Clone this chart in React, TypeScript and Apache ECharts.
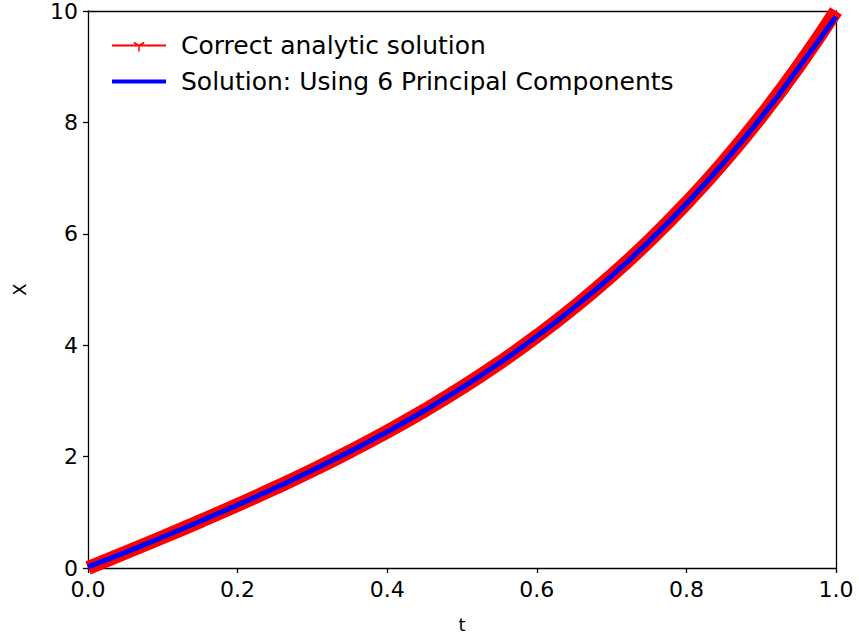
import React, { useEffect, useRef } from 'react';
import * as echarts from 'echarts';

const tValues = [0, 0.05, 0.1, 0.15, 0.2, 0.25, 0.3, 0.35, 0.4, 0.45, 0.5, 0.55, 0.6, 0.65, 0.7, 0.75, 0.8, 0.85, 0.9, 0.95, 1.0];
const analyticX = [0, 0.276, 0.555, 0.84, 1.133, 1.437, 1.755, 2.092, 2.449, 2.83, 3.24, 3.683, 4.162, 4.683, 5.25, 5.871, 6.55, 7.294, 8.112, 9.011, 10.0];
const pcaX = [0.02, 0.28, 0.556, 0.84, 1.132, 1.436, 1.754, 2.09, 2.447, 2.828, 3.238, 3.68, 4.16, 4.68, 5.245, 5.865, 6.54, 7.28, 8.09, 8.98, 9.9];
const xTickLabels = ['0.0', '0.2', '0.4', '0.6', '0.8', '1.0'];
const yTickLabels = ['0', '2', '4', '6', '8', '10'];

const seriesNames = ['Correct analytic solution', 'Solution: Using 6 Principal Components'];

const FONT = 'DejaVu Sans';

const redIcon =
  'path://M0 1 H0.01 V1.01 H0 Z M0 6 H54 V8 H0 Z M26.25 7 H27.75 V13 H26.25 Z ' +
  'M26.625 7.65 L21.425 4.65 L22.175 3.35 L27.375 6.35 Z ' +
  'M26.625 6.35 L31.825 3.35 L32.575 4.65 L27.375 7.65 Z';
const blueIcon = 'path://M0 1 H0.01 V1.01 H0 Z M0 5 H54 V9 H0 Z M0 12.99 H0.01 V13 H0 Z';

export default function App() {
  const ref = useRef<HTMLDivElement>(null);
  useEffect(() => {
    if (!ref.current) return;
    const chart = echarts.init(ref.current, undefined, { renderer: 'svg' });
    const axisLineStyle = { color: '#000', width: 1.3 };
    chart.setOption({
      animation: false,
      backgroundColor: '#fff',
      grid: { left: 88, right: 23, top: 10, bottom: 71 },
      legend: {
        orient: 'vertical',
        left: 107,
        top: 28,
        itemWidth: 54,
        itemHeight: 14,
        itemGap: 11,
        selectedMode: false,
        textStyle: { fontSize: 25, lineHeight: 25, color: '#000', fontFamily: FONT, padding: [0, 0, 0, 10] },
        data: [
          { name: seriesNames[0], icon: redIcon },
          { name: seriesNames[1], icon: blueIcon },
        ],
      },
      xAxis: [
        {
          type: 'value',
          min: 0,
          max: 1,
          interval: 0.2,
          name: 't',
          nameLocation: 'middle',
          nameGap: 47,
          nameTextStyle: { fontSize: 18, color: '#000', fontFamily: FONT },
          axisLine: { show: true, onZero: false, lineStyle: axisLineStyle },
          axisTick: { show: true, length: 5, lineStyle: axisLineStyle },
          axisLabel: {
            fontSize: 22,
            color: '#000',
            fontFamily: FONT,
            margin: 10,
            formatter: (v: number) => xTickLabels[Math.round(v / 0.2)] ?? '',
          },
          splitLine: { show: false },
        },
        {
          type: 'value',
          position: 'top',
          min: 0,
          max: 1,
          axisLine: { show: true, onZero: false, lineStyle: axisLineStyle },
          axisTick: { show: false },
          axisLabel: { show: false },
          splitLine: { show: false },
        },
      ],
      yAxis: [
        {
          type: 'value',
          min: 0,
          max: 10,
          interval: 2,
          name: 'X',
          nameLocation: 'middle',
          nameGap: 60,
          nameTextStyle: { fontSize: 18, color: '#000', fontFamily: FONT },
          axisLine: { show: true, onZero: false, lineStyle: axisLineStyle },
          axisTick: { show: true, length: 5, lineStyle: axisLineStyle },
          axisLabel: {
            fontSize: 22,
            color: '#000',
            fontFamily: FONT,
            margin: 10,
            formatter: (v: number) => yTickLabels[Math.round(v / 2)] ?? '',
          },
          splitLine: { show: false },
        },
        {
          type: 'value',
          position: 'right',
          min: 0,
          max: 10,
          axisLine: { show: true, onZero: false, lineStyle: axisLineStyle },
          axisTick: { show: false },
          axisLabel: { show: false },
          splitLine: { show: false },
        },
      ],
      series: [
        {
          type: 'line',
          name: seriesNames[0],
          data: tValues.map((t, i) => [t, analyticX[i]]),
          smooth: true,
          symbol: 'none',
          lineStyle: { color: '#ff0000', width: 14 },
          itemStyle: { color: '#ff0000' },
          z: 2,
        },
        {
          type: 'line',
          name: seriesNames[1],
          data: tValues.map((t, i) => [t, pcaX[i]]),
          smooth: true,
          symbol: 'none',
          lineStyle: { color: '#0000ff', width: 5 },
          itemStyle: { color: '#0000ff' },
          z: 3,
        },
      ],
    });
    return () => chart.dispose();
  }, []);
  return <div ref={ref} style={{ position: 'fixed', left: 0, top: 0, width: 859, height: 639 }} />;
}
